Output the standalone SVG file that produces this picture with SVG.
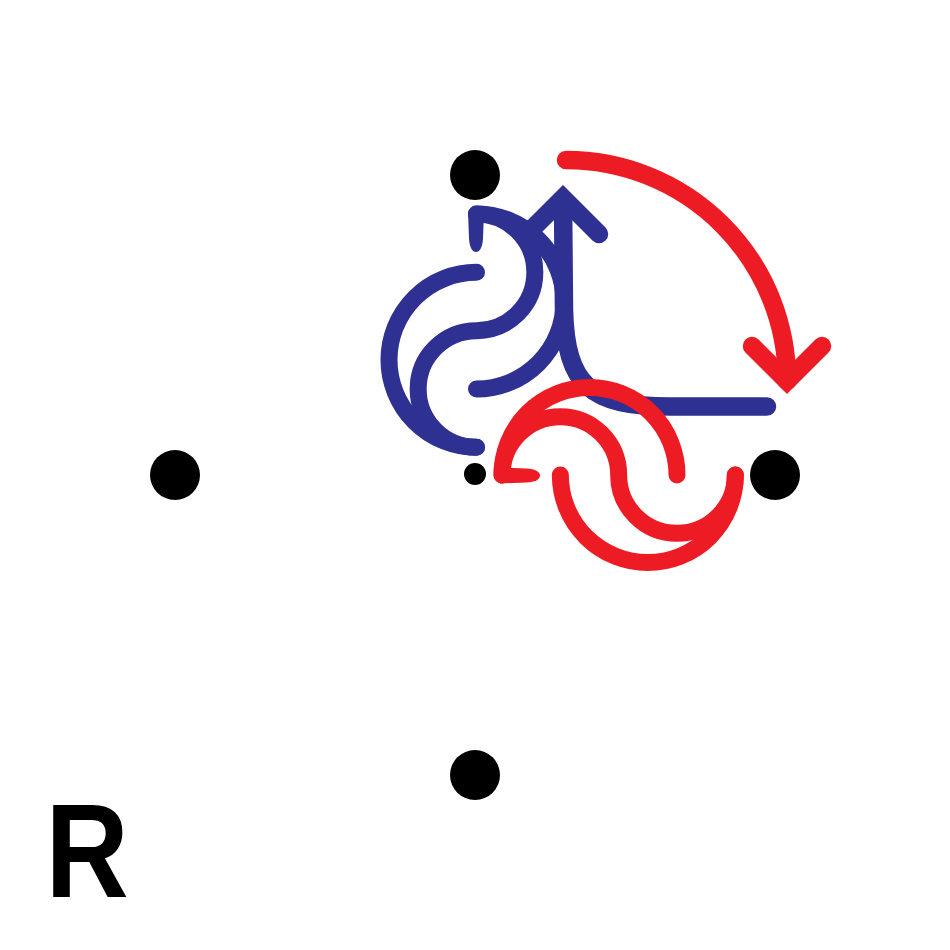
<svg xmlns="http://www.w3.org/2000/svg" width="950" height="950" viewBox="0 0 950 950">
  <style>
    .fig { fill: none; stroke-width: 17; stroke-linecap: round; }
    .red { stroke: #ED1C24; }
    .blue { stroke: #2E3192; }
    .hookred { fill: #ED1C24; stroke: none; }
    .hookblue { fill: #2E3192; stroke: none; }
    .arrow { fill: none; stroke-width: 18.5; stroke-linecap: round; stroke-linejoin: round; }
    .head { fill: none; stroke-width: 18.5; stroke-linecap: round; stroke-linejoin: miter; stroke-miterlimit: 10; }
    .dot { fill: #000000; }
    .label { font-family: "Comic Sans MS", "Liberation Sans", sans-serif; font-weight: bold; font-size: 134px; fill: #000000; }
  </style>
  <rect width="950" height="950" fill="#ffffff"/>

  <g id="connectors">
    <g id="blue-arrow">
      <path class="arrow blue" d="M563,200 L564,310 C566,385 590,406.5 670,406.5 L767,406.5"/>
      <path class="head blue" d="M527,234 L563,198 L599,234"/>
    </g>
  </g>

  <g id="blue-cycle" transform="matrix(0,1,-1,0,951.5,-288)">
    <path class="fig blue" d="M502,475 A87.5,87.5 0 0 1 677,475"/>
    <path class="fig blue" d="M502,475 A58.33,58.33 0 0 1 618.67,475 A58.33,58.33 0 0 0 735.33,475"/>
    <path class="fig blue" d="M560.33,475 A87.5,87.5 0 0 0 735.33,475"/>
    <path class="hookblue" d="M500,467.5 L526,468.5 C536,469 540,472 540,475.5 C540,479 536,482 526,482.5 L500,483.5 Z"/>
  </g>

  <g id="connectors-red">
    <g id="red-arrow">
      <path class="arrow red" d="M566,160 A221,221 0 0 1 787,381"/>
      <path class="head red" d="M752,346 L787,381 L822,346"/>
    </g>
  </g>

  <g id="red-cycle">
    <path class="fig red" d="M502,475 A87.5,87.5 0 0 1 677,475"/>
    <path class="fig red" d="M502,475 A58.33,58.33 0 0 1 618.67,475 A58.33,58.33 0 0 0 735.33,475"/>
    <path class="fig red" d="M560.33,475 A87.5,87.5 0 0 0 735.33,475"/>
    <path class="hookred" d="M500,467.5 L526,468.5 C536,469 540,472 540,475.5 C540,479 536,482 526,482.5 L500,483.5 Z"/>
  </g>

  <g id="dot-top"><circle class="dot" cx="475" cy="175" r="25"/></g>
  <g id="dot-left"><circle class="dot" cx="175" cy="475" r="25"/></g>
  <g id="dot-right"><circle class="dot" cx="775" cy="475" r="25"/></g>
  <g id="dot-bottom"><circle class="dot" cx="475" cy="775" r="25"/></g>
  <g id="dot-center"><circle class="dot" cx="475" cy="474" r="11"/></g>

  <g id="label-R"><text class="label" transform="translate(45.5,897) scale(0.86,1)" x="0" y="0">R</text></g>
</svg>
